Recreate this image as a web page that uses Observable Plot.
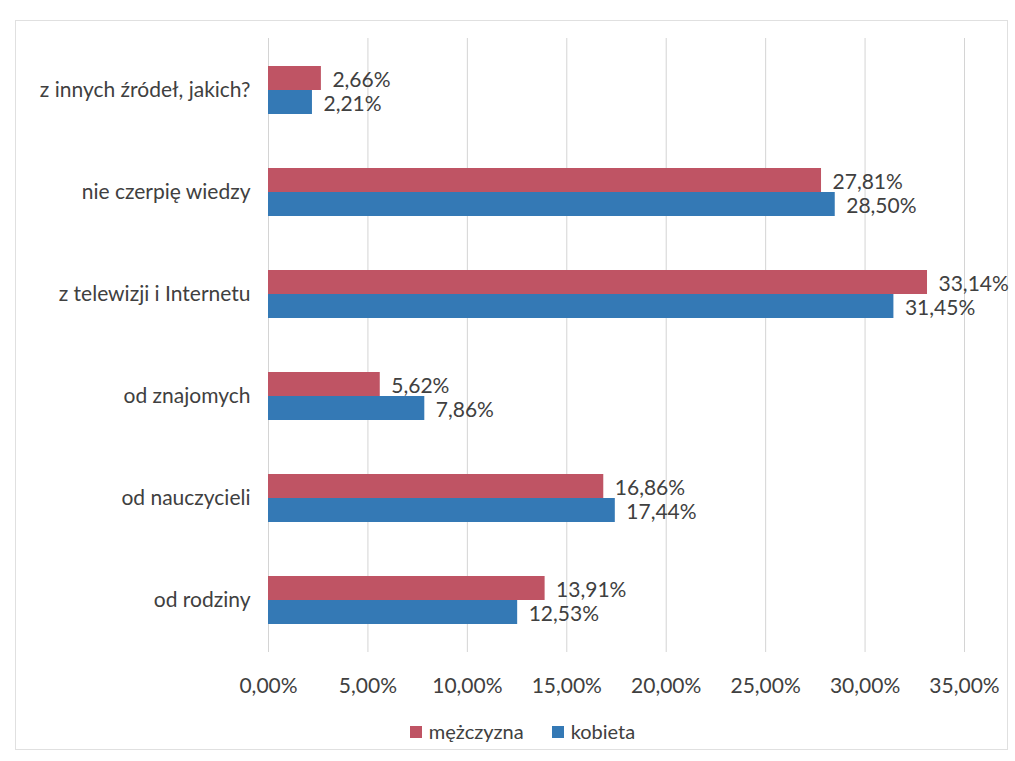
<!DOCTYPE html>
<html>
<head>
<meta charset="utf-8">
<script src="https://cdn.jsdelivr.net/npm/d3@7"></script>
<script src="https://cdn.jsdelivr.net/npm/@observablehq/plot@0.6"></script>
<style>
  body { margin: 0; background: #fff; font-family: Lato, "Open Sans", sans-serif; }
  #frame { position: absolute; left: 15px; top: 20px; width: 993px; height: 730px; border: 1px solid #e0e0e0; box-sizing: border-box; }
  #chart { position: absolute; left: 0; top: 0; }
  #legend { position: absolute; left: 0; top: 719px; width: 1015px; display: flex; justify-content: center; gap: 28px; font-size: 20px; color: #404040; padding-left: 30px; box-sizing: border-box; }
  #legend span.sw { display: inline-block; width: 12px; height: 12px; margin-right: 7px; vertical-align: 1px; }
</style>
</head>
<body>
<div id="frame"></div>
<div id="chart"></div>
<div id="legend"></div>
<script>
const categories = ["z innych źródeł, jakich?", "nie czerpię wiedzy", "z telewizji i Internetu", "od znajomych", "od nauczycieli", "od rodziny"];
const series = ["mężczyzna", "kobieta"];
const menValues = [2.66, 27.81, 33.14, 5.62, 16.86, 13.91];
const womenValues = [2.21, 28.50, 31.45, 7.86, 17.44, 12.53];
const xTicks = [0, 5, 10, 15, 20, 25, 30, 35];
const colors = ["#bf5464", "#3479b5"];

const fmt = v => v.toFixed(2).replace(".", ",") + "%";
const men = categories.map((c, i) => ({category: c, value: menValues[i]}));
const women = categories.map((c, i) => ({category: c, value: womenValues[i]}));

const half = 24;
const chart = Plot.plot({
  width: 1015,
  height: 705,
  marginLeft: 268,
  marginRight: 51,
  marginTop: 38,
  marginBottom: 53,
  style: {fontFamily: "Lato, 'Open Sans', sans-serif", fontSize: "21px", color: "#404040", background: "transparent"},
  x: {domain: [0, 35], ticks: xTicks, tickFormat: fmt, label: null, tickSize: 0, tickPadding: 26},
  y: {domain: categories, paddingInner: 0.53, paddingOuter: 0.27, label: null, tickSize: 0, tickPadding: 18},
  marks: [
    Plot.gridX(xTicks, {stroke: "#d4d4d4", strokeOpacity: 1, strokeWidth: 1}),
    Plot.barX(men, {x: "value", y: "category", fill: colors[0], insetBottom: half}),
    Plot.barX(women, {x: "value", y: "category", fill: colors[1], insetTop: half}),
    Plot.text(men, {x: "value", y: "category", text: d => fmt(d.value), textAnchor: "start", dx: 11, dy: -10, fill: "#404040", fontSize: 21}),
    Plot.text(women, {x: "value", y: "category", text: d => fmt(d.value), textAnchor: "start", dx: 11, dy: 14, fill: "#404040", fontSize: 21})
  ]
});
document.getElementById("chart").appendChild(chart);

const legend = document.getElementById("legend");
series.forEach((s, i) => {
  const item = document.createElement("div");
  item.innerHTML = `<span class="sw" style="background:${colors[i]}"></span>${s}`;
  legend.appendChild(item);
});
</script>
</body>
</html>
